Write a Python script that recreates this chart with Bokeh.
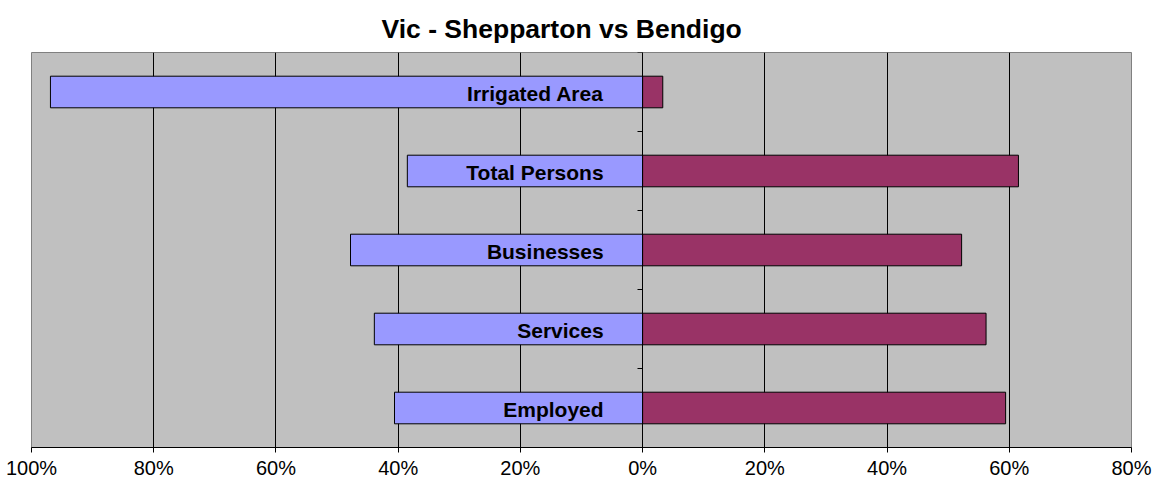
from bokeh.plotting import figure
from bokeh.models import Range1d, FixedTicker, CustomJSTickFormatter, ColumnDataSource
from bokeh.core.properties import value
from bokeh.embed import file_html
from bokeh.resources import INLINE

# Data (fractions of total)
categories = ["Irrigated Area", "Total Persons", "Businesses", "Services", "Employed"]
shepparton = [0.969, 0.385, 0.478, 0.439, 0.406]
bendigo = [0.033, 0.615, 0.522, 0.562, 0.594]
x_ticks = [-1.0, -0.8, -0.6, -0.4, -0.2, 0.0, 0.2, 0.4, 0.6, 0.8]

n = len(categories)
ypos = [n - 0.5 - i for i in range(n)]

src = ColumnDataSource(dict(
    cat=categories,
    y=ypos,
    shep_left=[-v for v in shepparton],
    zero=[0.0] * n,
    bend=bendigo,
))

FONT = "Liberation Sans"

p = figure(width=1168, height=481, output_backend="svg", toolbar_location=None,
           x_range=Range1d(-1.0, 0.8), y_range=Range1d(0, n),
           min_border_left=31, min_border_right=37, min_border_top=52, min_border_bottom=34,
           background_fill_color="#C0C0C0", border_fill_color="white",
           outline_line_color="#808080", outline_line_width=1)

p.title.text = "Vic - Shepparton vs Bendigo"
p.title.text_font = FONT
p.title.text_font_size = "26.5px"
p.title.text_font_style = "bold"
p.title.text_color = "black"
p.title.align = "left"
p.title.offset = 350
p.title.vertical_align = "top"
p.title.standoff = 14

# bars
p.hbar(y="y", left="shep_left", right="zero", height=0.4, source=src,
       fill_color="#9999FF", line_color="black", line_width=1)
p.hbar(y="y", left="zero", right="bend", height=0.4, source=src,
       fill_color="#993366", line_color="black", line_width=1)

# category labels
p.text(x="zero", y="y", text="cat", source=src, text_align="right", text_baseline="middle",
       x_offset=-39, y_offset=1, text_font=value(FONT), text_font_size="21px",
       text_font_style="bold", text_color="black")

# x axis
xa = p.xaxis[0]
xa.ticker = FixedTicker(ticks=x_ticks)
xa.formatter = CustomJSTickFormatter(code="return Math.round(Math.abs(tick)*100) + '%';")
xa.major_label_text_font = FONT
xa.major_label_text_font_size = "20px"
xa.major_label_text_color = "black"
xa.major_label_standoff = 4
xa.major_tick_out = 5
xa.major_tick_in = 0
xa.minor_tick_out = 0
xa.minor_tick_in = 0
xa.axis_line_color = "black"
xa.major_tick_line_color = "black"

# y axis placed at x = 0 with ticks at category boundaries (no labels)
ya = p.yaxis[0]
ya.fixed_location = 0
ya.ticker = FixedTicker(ticks=list(range(0, n + 1)))
ya.formatter = CustomJSTickFormatter(code="return '';")
ya.major_tick_out = 5
ya.major_tick_in = 0
ya.minor_tick_out = 0
ya.minor_tick_in = 0
ya.axis_line_color = "black"
ya.major_tick_line_color = "black"

p.xgrid.ticker = FixedTicker(ticks=x_ticks)
p.xgrid.grid_line_color = "black"
p.xgrid.grid_line_width = 1
p.ygrid.grid_line_color = None

open("out.html", "w").write(file_html(p, INLINE))
